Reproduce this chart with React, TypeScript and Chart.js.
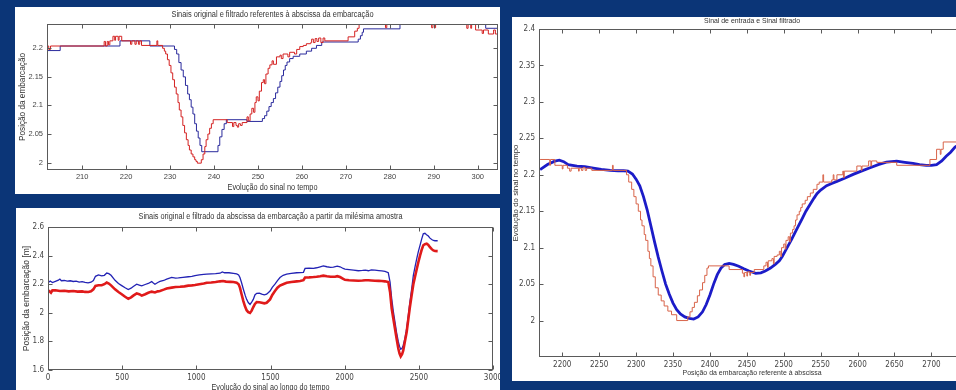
import React, { useEffect, useRef } from 'react';
import { Chart, registerables } from 'chart.js';
Chart.register(...registerables);

type Pt = [number, number];

// ---------- Panel 1 : "Sinais original e filtrado referentes à abscissa da embarcação"
const P1_X_TICKS = [210, 220, 230, 240, 250, 260, 270, 280, 290, 300];
const P1_Y_TICKS = [2, 2.05, 2.1, 2.15, 2.2];
const P1_FILTERED: Pt[] = [
  [202, 2.196], [205, 2.204], [218.6, 2.213], [225.4, 2.204], [231, 2.198], [231.5, 2.19], [232, 2.175],
  [232.5, 2.162], [233, 2.15], [233.5, 2.135], [234, 2.12], [234.4, 2.11], [234.8, 2.097], [235.2, 2.085],
  [235.6, 2.068], [236, 2.055], [236.4, 2.043], [236.8, 2.03], [237.2, 2.019], [240.9, 2.03], [241.3, 2.045],
  [241.8, 2.058], [242.3, 2.068], [242.8, 2.075], [247.5, 2.072], [251, 2.077], [251.5, 2.082], [252, 2.09],
  [252.5, 2.098], [253, 2.105], [253.5, 2.112], [254, 2.122], [254.5, 2.132], [255, 2.142], [255.4, 2.152],
  [255.8, 2.162], [256.2, 2.17], [256.6, 2.176], [257.2, 2.182], [258, 2.186], [259.5, 2.19], [261, 2.195],
  [262.2, 2.2], [263.3, 2.205], [264.5, 2.211], [272.8, 2.216], [273.3, 2.222], [273.7, 2.228], [274, 2.234],
  [282.3, 2.26], [301.8, 2.235], [305, 2.235],
];
const P1_ORIGINAL: Pt[] = [
  [202, 2.204], [202.4, 2.198], [202.8, 2.204], [215, 2.212], [215.3, 2.204], [215.7, 2.212], [216, 2.206],
  [216.3, 2.213], [217, 2.221], [217.4, 2.214], [217.6, 2.221], [218.2, 2.214], [218.4, 2.221], [219, 2.213],
  [221, 2.207], [221.3, 2.213], [222, 2.207], [222.3, 2.213], [222.8, 2.207], [223.1, 2.213], [223.5, 2.205],
  [227, 2.213], [227.2, 2.205], [228.3, 2.2], [228.7, 2.195], [229, 2.19], [229.4, 2.18], [229.8, 2.17],
  [230.2, 2.157], [230.6, 2.145], [231, 2.132], [231.4, 2.12], [231.8, 2.105], [232.1, 2.092], [232.5, 2.08],
  [232.9, 2.065], [233.3, 2.052], [233.7, 2.04], [234.1, 2.03], [234.4, 2.022], [234.8, 2.015], [235.2, 2.01],
  [235.6, 2.005], [235.9, 2.002], [236.2, 1.999], [237.1, 2.005], [237.5, 2.015], [237.9, 2.028], [238.2, 2.04],
  [238.6, 2.05], [239, 2.06], [239.4, 2.068], [239.8, 2.075], [243, 2.07], [244.2, 2.063], [244.5, 2.07],
  [245, 2.065], [245.3, 2.062], [245.6, 2.068], [246, 2.065], [246.4, 2.07], [247.5, 2.08], [247.8, 2.073],
  [248.2, 2.085], [248.6, 2.095], [249, 2.088], [249.3, 2.105], [249.6, 2.115], [250, 2.108], [250.3, 2.125],
  [250.8, 2.14], [251.2, 2.145], [251.5, 2.138], [251.8, 2.155], [252.3, 2.165], [252.7, 2.171], [253.2, 2.178],
  [253.5, 2.172], [254.2, 2.185], [255, 2.188], [255.3, 2.182], [255.7, 2.19], [256.8, 2.185], [257.2, 2.193],
  [258.3, 2.19], [258.8, 2.198], [259.5, 2.203], [260.3, 2.205], [261, 2.208], [262, 2.21], [262.2, 2.216],
  [262.6, 2.21], [263, 2.217], [263.4, 2.212], [263.8, 2.218], [264.3, 2.21], [264.8, 2.218], [265.2, 2.213],
  [270.5, 2.22], [272, 2.23], [272.6, 2.235], [273, 2.26], [279, 2.236], [279.3, 2.26], [289.5, 2.236],
  [289.8, 2.26], [290.2, 2.236], [290.4, 2.26], [297.5, 2.235], [297.8, 2.26], [298.4, 2.235], [298.6, 2.26],
  [299.5, 2.232], [301, 2.226], [301.3, 2.232], [302.4, 2.225], [303.6, 2.232], [304, 2.225], [305, 2.225],
];

// ---------- Panel 2 : "... a partir da milésima amostra"
const P2_X_TICKS = [0, 500, 1000, 1500, 2000, 2500, 3000];
const P2_Y_TICKS = [1.6, 1.8, 2, 2.2, 2.4, 2.6];
const P2_FILTERED: Pt[] = [
  [0, 2.21], [15, 2.222], [30, 2.212], [50, 2.22], [70, 2.228], [80, 2.236], [90, 2.224], [110, 2.226],
  [130, 2.222], [150, 2.224], [170, 2.219], [190, 2.222], [210, 2.215], [230, 2.218], [250, 2.213], [270, 2.21],
  [290, 2.214], [306, 2.225], [320, 2.255], [340, 2.265], [362, 2.258], [380, 2.262], [396, 2.278], [410, 2.274],
  [425, 2.262], [452, 2.227], [475, 2.205], [497, 2.19], [520, 2.175], [541, 2.163], [560, 2.172], [575, 2.184],
  [598, 2.2], [615, 2.194], [632, 2.188], [655, 2.198], [676, 2.205], [699, 2.218], [710, 2.208], [721, 2.2],
  [740, 2.212], [755, 2.219], [780, 2.226], [800, 2.235], [834, 2.247], [860, 2.243], [879, 2.244], [910, 2.248],
  [946, 2.252], [970, 2.254], [991, 2.26], [1020, 2.265], [1050, 2.268], [1070, 2.27], [1100, 2.272],
  [1130, 2.274], [1160, 2.277], [1175, 2.286], [1190, 2.28], [1220, 2.28], [1250, 2.276], [1272, 2.272],
  [1285, 2.265], [1294, 2.247], [1305, 2.21], [1317, 2.165], [1330, 2.12], [1339, 2.094], [1350, 2.072],
  [1362, 2.059], [1373, 2.075], [1384, 2.094], [1395, 2.125], [1407, 2.136], [1425, 2.138], [1441, 2.13],
  [1458, 2.125], [1474, 2.13], [1497, 2.152], [1512, 2.178], [1530, 2.2], [1547, 2.225], [1564, 2.247],
  [1585, 2.262], [1609, 2.27], [1640, 2.275], [1677, 2.28], [1700, 2.281], [1722, 2.283], [1733, 2.31],
  [1760, 2.312], [1790, 2.31], [1811, 2.315], [1835, 2.322], [1856, 2.328], [1880, 2.322], [1905, 2.318],
  [1924, 2.32], [1950, 2.326], [1969, 2.322], [1990, 2.31], [2002, 2.306], [2030, 2.302], [2060, 2.298],
  [2092, 2.294], [2120, 2.296], [2140, 2.298], [2160, 2.294], [2180, 2.3], [2204, 2.298], [2230, 2.295],
  [2250, 2.293], [2272, 2.29], [2294, 2.28], [2306, 2.215], [2317, 2.099], [2328, 2.01], [2339, 1.936],
  [2350, 1.862], [2362, 1.796], [2370, 1.765], [2378, 1.745], [2387, 1.752], [2395, 1.773], [2406, 1.82],
  [2418, 1.89], [2429, 1.98], [2440, 2.076], [2452, 2.17], [2463, 2.262], [2475, 2.325], [2486, 2.379],
  [2497, 2.43], [2508, 2.472], [2519, 2.515], [2530, 2.553], [2541, 2.556], [2552, 2.546], [2564, 2.537],
  [2575, 2.522], [2587, 2.513], [2598, 2.506], [2609, 2.504], [2627, 2.504],
];
const P2_ORIGINAL: Pt[] = [
  [0, 2.157], [10, 2.15], [20, 2.14], [30, 2.157], [50, 2.158], [80, 2.152], [110, 2.154], [140, 2.15],
  [170, 2.152], [200, 2.148], [230, 2.15], [250, 2.146], [272, 2.145], [290, 2.15], [306, 2.164], [320, 2.188],
  [340, 2.193], [362, 2.193], [380, 2.2], [396, 2.212], [410, 2.205], [425, 2.192], [452, 2.164], [475, 2.145],
  [497, 2.13], [520, 2.112], [541, 2.098], [560, 2.108], [575, 2.12], [598, 2.136], [615, 2.13], [632, 2.12],
  [655, 2.13], [676, 2.14], [699, 2.148], [721, 2.142], [740, 2.15], [755, 2.153], [780, 2.162], [800, 2.17],
  [834, 2.176], [860, 2.18], [890, 2.182], [920, 2.185], [946, 2.19], [970, 2.192], [991, 2.195], [1020, 2.2],
  [1050, 2.205], [1070, 2.21], [1100, 2.212], [1130, 2.215], [1160, 2.22], [1180, 2.222], [1200, 2.218],
  [1230, 2.216], [1250, 2.215], [1272, 2.21], [1285, 2.2], [1294, 2.176], [1305, 2.13], [1317, 2.082],
  [1328, 2.045], [1339, 2.018], [1350, 2.005], [1362, 1.999], [1373, 2.015], [1384, 2.04], [1395, 2.062],
  [1407, 2.075], [1425, 2.074], [1441, 2.07], [1458, 2.066], [1474, 2.07], [1497, 2.094], [1512, 2.125],
  [1530, 2.152], [1547, 2.175], [1564, 2.19], [1585, 2.2], [1609, 2.21], [1640, 2.215], [1677, 2.22],
  [1700, 2.222], [1722, 2.228], [1733, 2.247], [1760, 2.248], [1790, 2.25], [1811, 2.252], [1835, 2.256],
  [1856, 2.26], [1880, 2.255], [1905, 2.252], [1935, 2.252], [1950, 2.256], [1969, 2.25], [1990, 2.238],
  [2002, 2.231], [2030, 2.228], [2060, 2.226], [2092, 2.224], [2120, 2.226], [2140, 2.228], [2160, 2.228],
  [2180, 2.226], [2204, 2.224], [2230, 2.223], [2250, 2.222], [2272, 2.22], [2294, 2.215], [2306, 2.146],
  [2317, 2.03], [2328, 1.96], [2339, 1.89], [2350, 1.82], [2362, 1.749], [2370, 1.715], [2378, 1.695],
  [2387, 1.71], [2395, 1.737], [2406, 1.8], [2418, 1.866], [2429, 1.955], [2440, 2.042], [2452, 2.125],
  [2463, 2.2], [2475, 2.255], [2486, 2.306], [2497, 2.355], [2508, 2.4], [2519, 2.44], [2530, 2.472],
  [2541, 2.48], [2553, 2.483], [2564, 2.475], [2575, 2.459], [2587, 2.445], [2598, 2.436], [2609, 2.432],
  [2627, 2.431],
];

// ---------- Panel 3 : "Sinal de entrada e Sinal filtrado"
const P3_X_TICKS = [2200, 2250, 2300, 2350, 2400, 2450, 2500, 2550, 2600, 2650, 2700];
const P3_Y_TICKS = [2, 2.05, 2.1, 2.15, 2.2, 2.25, 2.3, 2.35, 2.4];
const P3_FILTERED: Pt[] = [
  [2170, 2.207], [2180, 2.214], [2190, 2.2187], [2196, 2.22], [2202, 2.218], [2208, 2.214], [2220, 2.212],
  [2230.6, 2.211], [2242, 2.209], [2253, 2.2073], [2265, 2.206], [2275.6, 2.2055], [2283, 2.2055],
  [2289, 2.205], [2295, 2.201], [2300, 2.194], [2305, 2.185], [2310, 2.17], [2315, 2.152], [2320, 2.13],
  [2325, 2.108], [2330, 2.087], [2335, 2.068], [2340, 2.05], [2345, 2.036], [2350, 2.024], [2355, 2.015],
  [2360, 2.009], [2366, 2.005], [2372, 2.003], [2378, 2.002], [2384, 2.005], [2390, 2.012], [2395, 2.022],
  [2400, 2.035], [2405, 2.05], [2410, 2.063], [2415, 2.072], [2420, 2.077], [2426, 2.0785], [2432, 2.077],
  [2439, 2.0745], [2446, 2.071], [2453, 2.068], [2462, 2.0648], [2469, 2.0655], [2475, 2.068], [2482, 2.072],
  [2489, 2.0775], [2494, 2.082], [2498, 2.088], [2504, 2.099], [2511, 2.112], [2518, 2.126], [2525, 2.14],
  [2530, 2.15], [2536, 2.16], [2541, 2.168], [2545, 2.174], [2550, 2.179], [2558, 2.185], [2565, 2.188],
  [2572, 2.191], [2584, 2.196], [2594, 2.2005], [2605, 2.205], [2617, 2.2096], [2628, 2.214], [2639, 2.2173],
  [2646, 2.218], [2653, 2.2187], [2664, 2.217], [2675, 2.2155], [2684, 2.2138], [2693, 2.2128], [2700, 2.213],
  [2707, 2.214], [2714, 2.219], [2720, 2.2255], [2726, 2.231], [2732, 2.238], [2740, 2.243],
];
const P3_ORIGINAL: Pt[] = [
  [2170, 2.221], [2183, 2.213], [2184, 2.221], [2190, 2.213], [2200, 2.208], [2201, 2.213], [2207, 2.209],
  [2210, 2.205], [2212, 2.209], [2222, 2.205], [2223, 2.209], [2226, 2.206], [2228, 2.21], [2231, 2.206],
  [2233, 2.209], [2240, 2.206], [2268, 2.213], [2269, 2.206], [2287, 2.2], [2290, 2.19], [2294, 2.18],
  [2297, 2.17], [2300, 2.16], [2303, 2.15], [2306, 2.138], [2308, 2.13], [2311, 2.118], [2313, 2.11],
  [2316, 2.095], [2318, 2.085], [2320, 2.075], [2323, 2.06], [2326, 2.045], [2330, 2.035], [2334, 2.027],
  [2338, 2.02], [2343, 2.013], [2348, 2.008], [2355, 2.0], [2370, 2.005], [2373, 2.012], [2376, 2.018],
  [2379, 2.025], [2383, 2.034], [2386, 2.042], [2390, 2.052], [2393, 2.062], [2396, 2.072], [2398, 2.075],
  [2426, 2.07], [2444, 2.065], [2446, 2.06], [2447, 2.066], [2450, 2.061], [2451, 2.067], [2454, 2.062],
  [2455, 2.066], [2460, 2.07], [2473, 2.075], [2476, 2.08], [2478, 2.073], [2479, 2.082], [2484, 2.085],
  [2486, 2.078], [2487, 2.088], [2491, 2.09], [2494, 2.095], [2496, 2.088], [2497, 2.1], [2500, 2.105],
  [2502, 2.098], [2503, 2.11], [2506, 2.115], [2508, 2.108], [2509, 2.12], [2512, 2.125], [2514, 2.13],
  [2516, 2.138], [2518, 2.145], [2521, 2.15], [2523, 2.155], [2525, 2.16], [2529, 2.165], [2532, 2.17],
  [2536, 2.175], [2540, 2.18], [2545, 2.187], [2548, 2.19], [2553, 2.2], [2554, 2.19], [2565, 2.193],
  [2567, 2.2], [2568, 2.193], [2572, 2.2], [2580, 2.205], [2581, 2.196], [2582, 2.205], [2599, 2.212],
  [2605, 2.206], [2606, 2.212], [2615, 2.219], [2618, 2.212], [2619, 2.219], [2626, 2.217], [2653, 2.213],
  [2698, 2.221], [2707, 2.235], [2712, 2.228], [2713, 2.235], [2716, 2.245], [2746, 2.245],
];

// ---------- styling / layout
const BG = '#0b3577';
const REG = '"Liberation Sans", Arial, sans-serif';
const NARROW = '"Liberation Sans Narrow", "DejaVu Sans Condensed", "Liberation Sans", Arial, sans-serif';

type Series = { pts: Pt[]; color: string; width: number; stepped?: boolean };
type Txt = { text: string; x?: number; y?: number; rot?: boolean; size: number; maxW: number };
type Spec = {
  left: number; top: number; w: number; h: number;
  plot: { left: number; top: number; right: number; bottom: number };
  xMin: number; xMax: number; yMin: number; yMax: number;
  xTicks: number[]; yTicks: number[];
  tickFont: { family: string; size: number };
  xPad: number; yPad: number;
  series: Series[];
  texts: Txt[];
};

const SPECS: Spec[] = [
  {
    left: 15, top: 7, w: 485, h: 187,
    plot: { left: 32, top: 17, right: 483, bottom: 163 },
    xMin: 202, xMax: 304.6, yMin: 1.987, yMax: 2.2425,
    xTicks: P1_X_TICKS, yTicks: P1_Y_TICKS,
    tickFont: { family: REG, size: 7.5 }, xPad: 2, yPad: 4,
    series: [
      { pts: P1_ORIGINAL, color: '#d42222', width: 1, stepped: true },
      { pts: P1_FILTERED, color: '#2a2a9c', width: 1, stepped: true },
    ],
    texts: [
      { text: 'Sinais original e filtrado referentes à abscissa da embarcação', y: 8, size: 8.5, maxW: 202 },
      { text: 'Evolução do sinal no tempo', y: 181, size: 8.5, maxW: 90 },
      { text: 'Posição da embarcação', x: 8, rot: true, size: 8.5, maxW: 88 },
    ],
  },
  {
    left: 16, top: 208, w: 484, h: 182,
    plot: { left: 32, top: 19, right: 477, bottom: 162 },
    xMin: 0, xMax: 3000, yMin: 1.6, yMax: 2.6,
    xTicks: P2_X_TICKS, yTicks: P2_Y_TICKS,
    tickFont: { family: NARROW, size: 8 }, xPad: 3, yPad: 4,
    series: [
      { pts: P2_ORIGINAL, color: '#e01a1a', width: 2.6 },
      { pts: P2_FILTERED, color: '#2222b4', width: 1.3 },
    ],
    texts: [
      { text: 'Sinais original e filtrado da abscissa da embarcação a partir da milésima amostra', y: 9, size: 8.5, maxW: 264 },
      { text: 'Evolução do sinal ao longo do tempo', y: 180, size: 8.5, maxW: 118 },
      { text: 'Posição da embarcação [m]', x: 11, rot: true, size: 8.5, maxW: 107 },
    ],
  },
  {
    left: 512, top: 17, w: 500, h: 364,
    plot: { left: 27, top: 12, right: 453, bottom: 340 },
    xMin: 2168.5, xMax: 2745.5, yMin: 1.95, yMax: 2.4,
    xTicks: P3_X_TICKS, yTicks: P3_Y_TICKS,
    tickFont: { family: NARROW, size: 8 }, xPad: 3, yPad: 4,
    series: [
      { pts: P3_ORIGINAL, color: '#d8644a', width: 1, stepped: true },
      { pts: P3_FILTERED, color: '#1c1cc8', width: 2.8 },
    ],
    texts: [
      { text: 'Sinal de entrada e Sinal filtrado', y: 4, size: 7.5, maxW: 96 },
      { text: 'Posição da embarcação referente à abscissa', y: 356, size: 8, maxW: 139 },
      { text: 'Evolução do sinal no tempo', x: 4, rot: true, size: 8, maxW: 97 },
    ],
  },
];

function Panel({ spec }: { spec: Spec }) {
  const ref = useRef<HTMLCanvasElement>(null);
  useEffect(() => {
    const canvas = ref.current;
    if (!canvas) return;
    const { w, h, plot } = spec;
    const frame = {
      id: 'matlabFrame',
      afterDatasetsDraw(chart: any) {
        const { ctx, chartArea: a, scales } = chart;
        ctx.save();
        ctx.strokeStyle = '#5a5a5a';
        ctx.lineWidth = 1;
        const L = Math.round(a.left) + 0.5, R = Math.round(a.right) - 0.5;
        const T = Math.round(a.top) + 0.5, B = Math.round(a.bottom) - 0.5;
        ctx.strokeRect(L, T, R - L, B - T);
        ctx.beginPath();
        const tl = 4;
        spec.xTicks.forEach((v) => {
          const px = Math.round(scales.x.getPixelForValue(v)) + 0.5;
          ctx.moveTo(px, B); ctx.lineTo(px, B - tl);
          ctx.moveTo(px, T); ctx.lineTo(px, T + tl);
        });
        spec.yTicks.forEach((v) => {
          const py = Math.round(scales.y.getPixelForValue(v)) + 0.5;
          ctx.moveTo(L, py); ctx.lineTo(L + tl, py);
          ctx.moveTo(R, py); ctx.lineTo(R - tl, py);
        });
        ctx.stroke();
        ctx.fillStyle = '#333';
        ctx.textAlign = 'center';
        ctx.textBaseline = 'middle';
        spec.texts.forEach((t) => {
          ctx.font = `${t.size}px ${REG}`;
          if (t.rot) {
            ctx.save();
            ctx.translate(t.x ?? 0, t.y ?? (a.top + a.bottom) / 2);
            ctx.rotate(-Math.PI / 2);
            ctx.fillText(t.text, 0, 0, t.maxW);
            ctx.restore();
          } else {
            ctx.fillText(t.text, t.x ?? (a.left + a.right) / 2, t.y ?? 0, t.maxW);
          }
        });
        ctx.restore();
      },
    };
    const chart = new Chart(canvas, {
      type: 'line',
      data: {
        datasets: spec.series.map((s) => ({
          data: s.pts.map(([x, y]) => ({ x, y })),
          borderColor: s.color,
          backgroundColor: s.color,
          borderWidth: s.width,
          pointRadius: 0,
          tension: 0,
          stepped: s.stepped ? true : false,
          fill: false,
          clip: 0,
        })),
      },
      options: {
        responsive: false,
        maintainAspectRatio: false,
        animation: false,
        devicePixelRatio: 1,
        events: [],
        layout: { padding: { left: 0, top: plot.top, right: w - plot.right, bottom: 0 } },
        plugins: { legend: { display: false }, tooltip: { enabled: false }, title: { display: false } },
        scales: {
          x: {
            type: 'linear',
            min: spec.xMin,
            max: spec.xMax,
            grid: { display: false, drawTicks: false },
            border: { display: false },
            ticks: {
              padding: spec.xPad, color: '#444', font: spec.tickFont,
              maxRotation: 0, autoSkip: false, callback: (v: any) => String(v),
            },
            afterBuildTicks: (s: any) => { s.ticks = spec.xTicks.map((v) => ({ value: v })); },
            afterFit: (s: any) => { s.height = h - plot.bottom; s.paddingLeft = 0; s.paddingRight = 0; },
          },
          y: {
            type: 'linear',
            min: spec.yMin,
            max: spec.yMax,
            grid: { display: false, drawTicks: false },
            border: { display: false },
            ticks: {
              padding: spec.yPad, color: '#444', font: spec.tickFont,
              autoSkip: false, callback: (v: any) => String(v),
            },
            afterBuildTicks: (s: any) => { s.ticks = spec.yTicks.map((v) => ({ value: v })); },
            afterFit: (s: any) => { s.width = plot.left; s.paddingTop = 0; s.paddingBottom = 0; },
          },
        },
      } as any,
      plugins: [frame],
    });
    return () => chart.destroy();
  }, [spec]);
  return (
    <canvas
      ref={ref}
      width={spec.w}
      height={spec.h}
      style={{ position: 'absolute', left: spec.left, top: spec.top, width: spec.w, height: spec.h, background: '#fff' }}
    />
  );
}

export default function App() {
  return (
    <div style={{ position: 'fixed', left: 0, top: 0, width: 956, height: 390, overflow: 'hidden', background: BG }}>
      {SPECS.map((s, i) => (
        <Panel key={i} spec={s} />
      ))}
    </div>
  );
}
